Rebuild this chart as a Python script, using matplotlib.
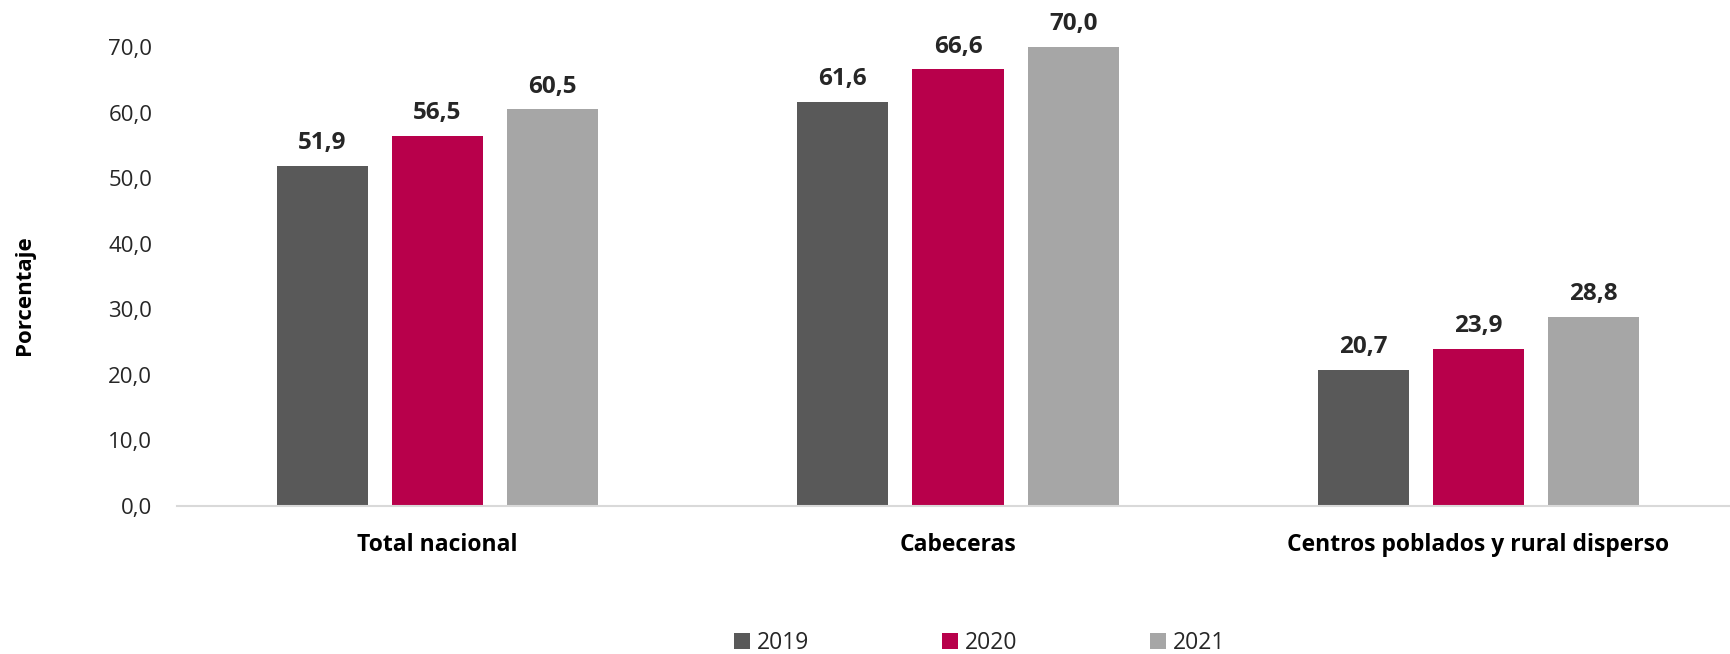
import matplotlib
matplotlib.use('Agg')
import matplotlib.pyplot as plt
import numpy as np

plt.rcParams['font.family'] = ['Open Sans', 'DejaVu Sans']

categorias = ['Total nacional', 'Cabeceras', 'Centros poblados y rural disperso']
anios = ['2019', '2020', '2021']
v2019 = [51.9, 61.6, 20.7]
v2020 = [56.5, 66.6, 23.9]
v2021 = [60.5, 70.0, 28.8]
colores = ['#595959', '#B8004B', '#A6A6A6']

fig = plt.figure(figsize=(17.31, 6.54), dpi=100)
ax = fig.add_axes([0.1024, 0.2268, 0.9021, 0.7012])

x = np.arange(len(categorias))
ancho = 0.175
paso = 0.2215
for i, (vals, anio, col) in enumerate(zip([v2019, v2020, v2021], anios, colores)):
    pos = x + (i - 1) * paso
    ax.bar(pos, vals, width=ancho, color=col, label=anio, zorder=2)
    for p, v in zip(pos, vals):
        ax.annotate(f'{v:.1f}'.replace('.', ','), (p, v), xytext=(0, 12),
                    textcoords='offset points', ha='center', va='baseline',
                    fontsize=17.5, fontweight='bold', color='#262626',
                    annotation_clip=False)

ax.set_xlim(-0.5, 2.5)
ax.set_ylim(0, 70)
ax.set_yticks(np.arange(0, 71, 10))
ax.set_yticklabels([f'{t:.1f}'.replace('.', ',') for t in np.arange(0, 71, 10)],
                   fontsize=16, color='#262626')
ax.set_xticks(x)
ax.set_xticklabels(categorias, fontsize=16.5, fontweight='bold', color='black')
ax.tick_params(axis='y', length=0, pad=18)
ax.tick_params(axis='x', length=0, pad=20)

for s in ['top', 'right', 'left']:
    ax.spines[s].set_visible(False)
ax.spines['bottom'].set_color('#D9D9D9')
ax.spines['bottom'].set_linewidth(1.5)
ax.spines['bottom'].set_zorder(3)

fig.text(0.014, 0.549, 'Porcentaje', rotation=90, ha='center', va='center',
         fontsize=16, fontweight='bold', color='black')

leg = fig.legend(loc='center', bbox_to_anchor=(0.566, 0.017), ncol=3, frameon=False,
                 fontsize=16.5, handlelength=0.7, handleheight=0.7, handletextpad=0.3,
                 columnspacing=5.8)
for t in leg.get_texts():
    t.set_color('#262626')

fig.savefig('out.png', dpi=100)
